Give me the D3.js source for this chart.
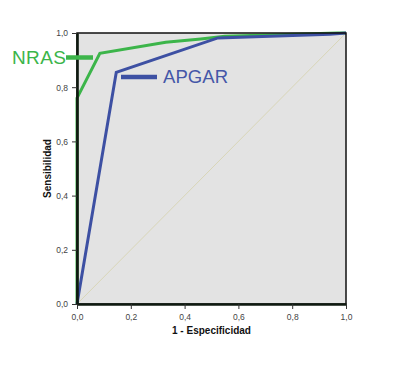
<!DOCTYPE html>
<html><head><meta charset="utf-8">
<script src="https://cdn.jsdelivr.net/npm/d3@7"></script>
<style>body{margin:0;background:#fff}svg{display:block}</style>
</head><body>
<svg id="c" width="416" height="375"></svg>
<script>
const ticks = [0, 0.2, 0.4, 0.6, 0.8, 1.0];
const tickLabels = ["0,0","0,2","0,4","0,6","0,8","1,0"];
const nrasX = [0, 0, 0.085, 0.33, 0.46, 0.55, 0.97, 1];
const nrasY = [0, 0.76, 0.925, 0.966, 0.978, 0.988, 1, 1];
const apgarX = [0, 0.146, 0.524, 0.94, 1];
const apgarY = [0, 0.855, 0.982, 0.995, 1];
const xTitle = "1 - Especificidad";
const yTitle = "Sensibilidad";
const seriesNames = ["NRAS", "APGAR"];

const svg = d3.select("#c");
const L = 77, R = 346, T = 33, B = 304;
const x = d3.scaleLinear().domain([0,1]).range([L,R]);
const y = d3.scaleLinear().domain([0,1]).range([B,T]);

svg.append("rect").attr("x",L).attr("y",T).attr("width",R-L).attr("height",B-T).attr("fill","#e3e3e3");
svg.append("line").attr("x1",x(0)).attr("y1",y(0)).attr("x2",x(1)).attr("y2",y(1))
  .attr("stroke","#d9d6b8").attr("stroke-width",1);

const line = d3.line().x(d=>x(d[0])).y(d=>y(d[1]));
const nras = nrasX.map((v,i)=>[v,nrasY[i]]);
const apgar = apgarX.map((v,i)=>[v,apgarY[i]]);
svg.append("path").datum(nras).attr("d",line).attr("fill","none").attr("stroke","#3cb54a").attr("stroke-width",3);
svg.append("path").datum(apgar).attr("d",line).attr("fill","none").attr("stroke","#3d50a3").attr("stroke-width",3);

svg.append("rect").attr("x",L).attr("y",T).attr("width",R-L).attr("height",B-T).attr("fill","none").attr("stroke","#111").attr("stroke-width",1.5);

const fmt = d => tickLabels[ticks.indexOf(d)];
const xa = svg.append("g").attr("transform",`translate(0,${B})`)
  .call(d3.axisBottom(x).tickValues(ticks).tickFormat(fmt).tickSize(5).tickSizeOuter(0));
const ya = svg.append("g").attr("transform",`translate(${L},0)`)
  .call(d3.axisLeft(y).tickValues(ticks).tickFormat(fmt).tickSize(5).tickSizeOuter(0));
[xa,ya].forEach(g=>{
  g.select(".domain").attr("stroke","#0f1a10").attr("stroke-width",2.6);
  g.selectAll(".tick line").attr("stroke","#333");
  g.selectAll("text").attr("font-family","Arial, Liberation Sans, sans-serif").attr("font-size",8.5).attr("fill","#444");
});
xa.selectAll("text").attr("dy","0.9em");
ya.selectAll("text").attr("dx","-1").attr("dy","0.35em");

svg.append("text").attr("x",(L+R)/2).attr("y",334).attr("text-anchor","middle")
  .attr("font-family","Arial, Liberation Sans, sans-serif").attr("font-weight","bold").attr("font-size",10).attr("fill","#111").text(xTitle);
svg.append("text").attr("transform",`translate(51,${(T+B)/2}) rotate(-90)`).attr("text-anchor","middle")
  .attr("font-family","Arial, Liberation Sans, sans-serif").attr("font-weight","bold").attr("font-size",10).attr("fill","#111").text(yTitle);

svg.append("line").attr("x1",66).attr("x2",93).attr("y1",57.5).attr("y2",57.5).attr("stroke","#3cb54a").attr("stroke-width",4.5);
svg.append("text").attr("x",12).attr("y",64).attr("font-family","Liberation Sans, Arial, sans-serif").attr("font-size",19).attr("fill","#3cb54a").attr("textLength",54).text(seriesNames[0]);
svg.append("line").attr("x1",121).attr("x2",157).attr("y1",77).attr("y2",77).attr("stroke","#3d50a3").attr("stroke-width",4.5);
svg.append("text").attr("x",163).attr("y",83).attr("font-family","Liberation Sans, Arial, sans-serif").attr("font-size",18.5).attr("fill","#4557a8").attr("textLength",65).text(seriesNames[1]);
</script>
</body></html>
